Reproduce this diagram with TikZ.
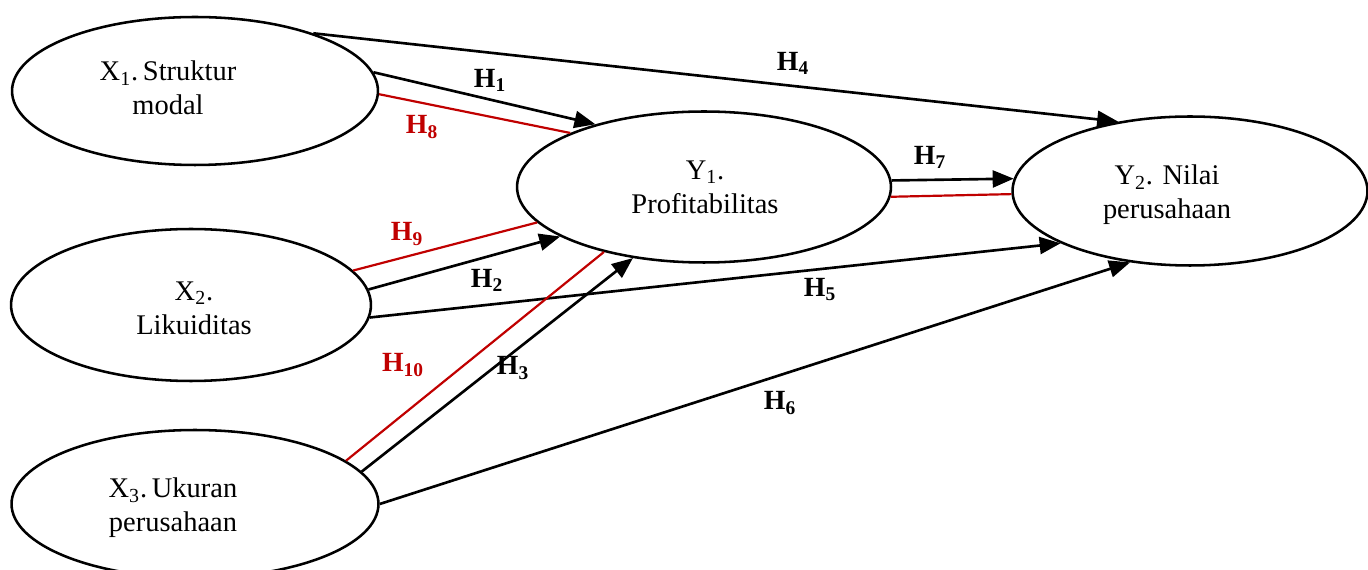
\documentclass[tikz,border=0pt]{standalone}
\usepackage{fontspec}
\setmainfont{Liberation Serif}
\usetikzlibrary{shapes.geometric,arrows.meta}
\definecolor{hred}{HTML}{C00000}
\tikzset{
  var/.style={draw, ellipse, line width=1.45pt, inner sep=0pt},
  vtext/.style={align=center, font=\fontsize{16.2}{19.5}\selectfont, inner sep=0pt},
  conn/.style={line width=1.5pt, -{Triangle[length=0.42cm,width=0.34cm]}},
  mconn/.style={line width=1.25pt, hred},
  hlab/.style={font=\fontsize{15.8}{18}\selectfont\bfseries, inner sep=0pt},
  rlab/.style={hlab, text=hred}
}
\begin{document}
\begin{tikzpicture}[x=0.02cm,y=-0.02cm]
\useasboundingbox (0,0) rectangle (1368,570);
% ellipses
\node[var, minimum width=7.32cm, minimum height=2.96cm] (X1) at (195,91) {};
\node[var, minimum width=7.20cm, minimum height=3.04cm] (X2) at (191,305) {};
\node[var, minimum width=7.34cm, minimum height=2.96cm] (X3) at (195,504) {};
\node[var, minimum width=7.48cm, minimum height=3.02cm] (Y1) at (704,187) {};
\node[var, minimum width=7.10cm, minimum height=2.98cm] (Y2) at (1190,191) {};
% texts
\node[vtext] (tX1) at (168,88) {X\textsubscript{1}.\,Struktur\\modal};
\node[vtext] (tX2) at (194,308) {X\textsubscript{2}.\\Likuiditas};
\node[vtext] (tX3) at (173,508) {X\textsubscript{3}.\,Ukuran\\perusahaan};
\node[vtext] (tY1) at (705,187) {Y\textsubscript{1}.\\Profitabilitas};
\node[vtext] (tY2) at (1167,195) {Y\textsubscript{2}. Nilai\\perusahaan};
% connectors
\draw[conn] (X1.26) -- (Y2.136);
\draw[conn] (X1.6) -- (Y1.150);
\draw[mconn] (X1.-1) -- (Y1.158);
\draw[mconn] (X2.12) -- (Y1.192);
\draw[conn] (X2.5) -- (Y1.199);
\draw[conn] (X2.-4) -- (Y2.202.5);
\draw[mconn] (X3.16.5) -- (Y1.213.5);
\draw[conn] (X3.11.5) -- (Y1.225.5);
\draw[conn] (X3.0.3) -- (Y2.230);
\draw[conn] (Y1.2) -- (Y2.176.5);
\draw[mconn] (Y1.-3.2) -- (Y2.181);
% labels
\node[hlab] (h1) at (490,80) {H\textsubscript{1}};
\node[rlab] (h8) at (422,127) {H\textsubscript{8}};
\node[hlab] (h4) at (793,63) {H\textsubscript{4}};
\node[hlab] (h7) at (930,157) {H\textsubscript{7}};
\node[rlab] (h9) at (407,234) {H\textsubscript{9}};
\node[hlab] (h2) at (487,280) {H\textsubscript{2}};
\node[hlab] (h5) at (820,290) {H\textsubscript{5}};
\node[rlab] (h10) at (403,365) {H\textsubscript{10}};
\node[hlab] (h3) at (513,368) {H\textsubscript{3}};
\node[hlab] (h6) at (780,403) {H\textsubscript{6}};
\end{tikzpicture}
\end{document}
